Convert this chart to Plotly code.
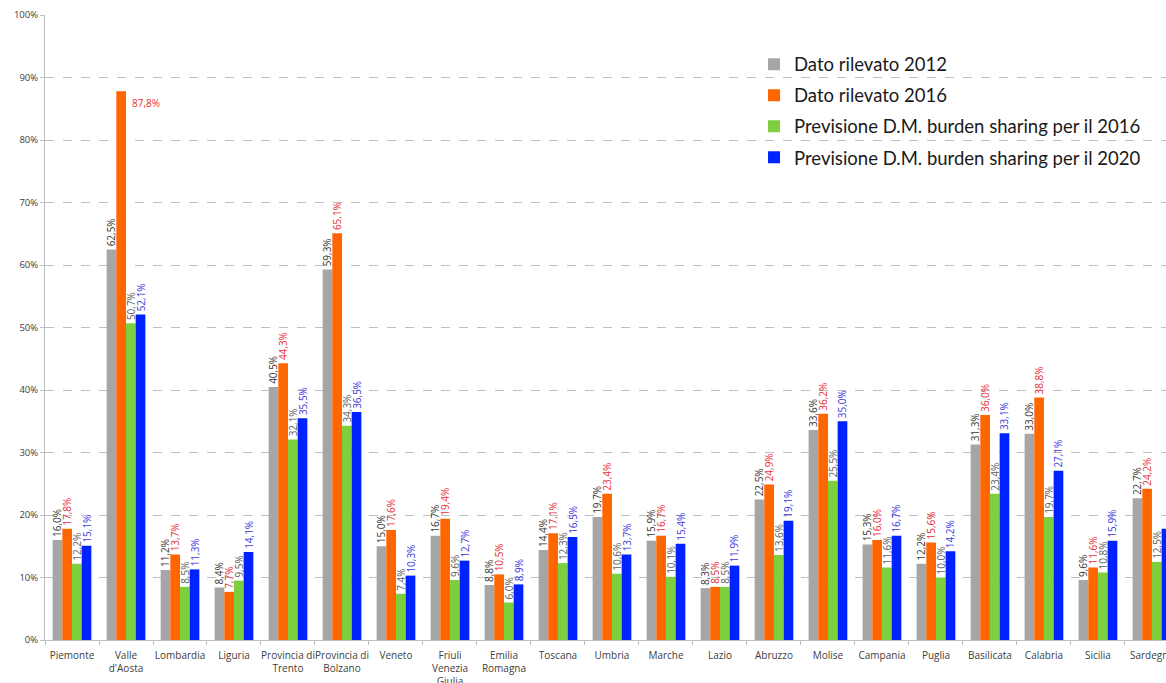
import plotly.graph_objects as go

regions = ["Piemonte", "Valle<br>d'Aosta", "Lombardia", "Liguria", "Provincia di<br>Trento",
           "Provincia di<br>Bolzano", "Veneto", "Friuli<br>Venezia<br>Giulia", "Emilia<br>Romagna",
           "Toscana", "Umbria", "Marche", "Lazio", "Abruzzo", "Molise", "Campania", "Puglia",
           "Basilicata", "Calabria", "Sicilia", "Sardegna"]

dato_2012 = [16.0, 62.5, 11.2, 8.4, 40.5, 59.3, 15.0, 16.7, 8.8, 14.4, 19.7, 15.9, 8.3, 22.5,
             33.6, 15.3, 12.2, 31.3, 33.0, 9.6, 22.7]
dato_2016 = [17.8, 87.8, 13.7, 7.7, 44.3, 65.1, 17.6, 19.4, 10.5, 17.1, 23.4, 16.7, 8.5, 24.9,
             36.2, 16.0, 15.6, 36.0, 38.8, 11.6, 24.2]
prev_2016 = [12.2, 50.7, 8.5, 9.5, 32.1, 34.3, 7.4, 9.6, 6.0, 12.3, 10.6, 10.1, 8.5, 13.6,
             25.5, 11.6, 10.0, 23.4, 19.7, 10.8, 12.5]
prev_2020 = [15.1, 52.1, 11.3, 14.1, 35.5, 36.5, 10.3, 12.7, 8.9, 16.5, 13.7, 15.4, 11.9, 19.1,
             35.0, 16.7, 14.2, 33.1, 27.1, 15.9, 17.8]

series_names = ["Dato rilevato 2012", "Dato rilevato 2016",
                "Previsione D.M. burden sharing per il 2016",
                "Previsione D.M. burden sharing per il 2020"]
series_values = [dato_2012, dato_2016, prev_2016, prev_2020]
bar_colors = ["#A6A6A6", "#FF6600", "#7DCF3D", "#0022FF"]
label_colors = ["#383838", "#E8303A", "#5F5F5F", "#3A3ADF"]

def fmt(v):
    return f"{v:.1f}".replace(".", ",") + "%"

# the highest value gets a horizontal label beside the bar instead of on top
max_val = max(dato_2016)

fig = go.Figure()
for i, (name, vals) in enumerate(zip(series_names, series_values)):
    texts = []
    for v in vals:
        if i == 1 and v == max_val:
            texts.append("")
        else:
            texts.append(fmt(v))
    fig.add_trace(go.Bar(
        x=regions, y=vals, name=name,
        marker=dict(color=bar_colors[i], line=dict(width=0)),
        text=texts, textposition="outside", textangle=-90,
        textfont=dict(size=10, color=label_colors[i], family="Open Sans"),
        constraintext="none", cliponaxis=False,
        legendgroup=f"g{i}",
        hoverinfo="x+y+name",
    ))

idx = dato_2016.index(max_val)
fig.add_annotation(x=regions[idx], y=max_val, text=fmt(max_val), showarrow=False,
                   xanchor="left", yanchor="top", xshift=4, yshift=-3,
                   font=dict(size=10, color=label_colors[1], family="Open Sans"))

fig.update_layout(
    width=1166, height=683,
    margin=dict(l=45, r=0, t=15, b=43, autoexpand=False),
    paper_bgcolor="white", plot_bgcolor="white",
    barmode="group", bargap=0.283, bargroupgap=0,
    separators=",.",
    font=dict(family="Open Sans", color="#404040"),
    legend=dict(x=0.6325, y=0.951, xanchor="left", yanchor="top",
                font=dict(size=18.5, family="Lato", color="#1a1a1a"),
                traceorder="grouped", tracegroupgap=4,
                bgcolor="rgba(0,0,0,0)", itemclick=False),
    xaxis=dict(range=[-0.5, 20.26], showline=True, linecolor="#BFBFBF", linewidth=1,
               ticks="outside", tickson="boundaries", ticklen=4, tickcolor="#BFBFBF",
               tickfont=dict(size=10, family="Open Sans", color="#404040"),
               ticklabelstandoff=6,
               tickangle=0, showgrid=False, fixedrange=True, automargin=False),
    yaxis=dict(range=[0, 100], dtick=10, ticksuffix="%", showline=True,
               linecolor="#BFBFBF", linewidth=1, ticks="outside", ticklen=4,
               tickcolor="#BFBFBF", showgrid=True, gridcolor="#BFBFBF",
               griddash="dash", gridwidth=1, zeroline=False,
               tickfont=dict(size=9.5, family="Open Sans", color="#404040"),
               fixedrange=True, automargin=False),
)

fig.write_html("out.html", config={"displayModeBar": False},
               post_script="document.body.style.margin='0';")
